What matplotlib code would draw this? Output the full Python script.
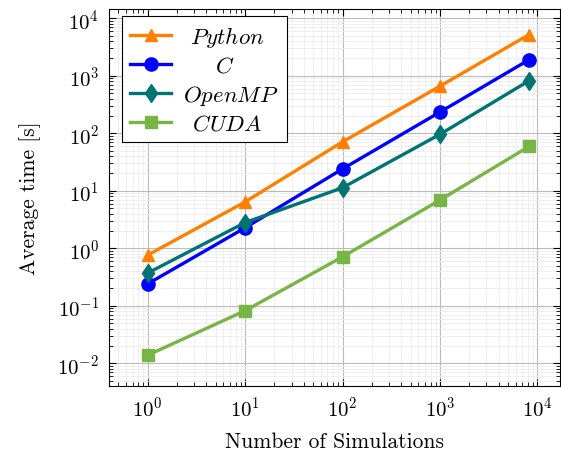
import matplotlib
matplotlib.use('Agg')
import matplotlib.pyplot as plt

plt.rcParams['font.family'] = 'serif'
plt.rcParams['font.serif'] = ['cmr10']
plt.rcParams['mathtext.fontset'] = 'cm'
plt.rcParams['axes.formatter.use_mathtext'] = True

# Datos =======================================================================
sims = [1, 10, 100, 1000, 8192]
t_python = [0.76, 6.4, 71, 660, 5200]
t_c = [0.24, 2.27, 24, 234, 1900]
t_openmp = [0.37, 2.8, 11.3, 96, 820]
t_cuda = [0.0138, 0.082, 0.71, 6.9, 59]
names = ['Python', 'C', 'OpenMP', 'CUDA']

# Visualización ===============================================================
fig = plt.figure(figsize=(5.61, 4.56), dpi=100)
ax = fig.add_axes([0.194, 0.151, 0.804, 0.827])

ax.plot(sims, t_python, color='#ff7f00', lw=2.4, marker='^', ms=9, label=names[0])
ax.plot(sims, t_c, color='#0000ff', lw=2.4, marker='o', ms=9.5, label=names[1])
ax.plot(sims, t_openmp, color='#007373', lw=2.4, marker='d', ms=9.5, label=names[2])
ax.plot(sims, t_cuda, color='#77b547', lw=2.4, marker='s', ms=9, label=names[3])

ax.set_xscale('log')
ax.set_yscale('log')
ax.set_xlim(0.4, 1.7e4)
ax.set_ylim(4e-3, 1.45e4)

ax.grid(True, which='major', color='#bbbbbb', lw=0.8)
ax.grid(True, which='minor', color='#ececec', lw=0.6)
ax.set_axisbelow(True)
ax.tick_params(which='both', direction='in', top=True, right=True, labelsize=15)
ax.tick_params(which='major', length=5, pad=7)
ax.tick_params(which='minor', length=3)

ax.set_xlabel('Number of Simulations', fontsize=15.5, labelpad=8)
ax.set_ylabel('Average time [s]', fontsize=15.5, labelpad=12)

fs = 16.5
leg = ax.legend(loc='upper left', bbox_to_anchor=(122 / 561, 1 - 17 / 456),
                bbox_transform=fig.transFigure, fontsize=fs, fancybox=False,
                framealpha=1, edgecolor='black', handlelength=1.8,
                handletextpad=0.4, borderaxespad=0, borderpad=0.35,
                labelspacing=0.3)
leg.get_frame().set_linewidth(0.8)

# Centrar etiquetas de la leyenda
fig.canvas.draw()
r = fig.canvas.get_renderer()
widths = [t.get_window_extent(r).width for t in leg.get_texts()]
em = fs * fig.dpi / 72
wmax = max(widths) + 0.35 * em
for t, w, n in zip(leg.get_texts(), widths, names):
    p = (wmax - w) / 2 / em
    t.set_text(r'$\hspace{%.3f}%s\hspace{%.3f}$' % (p, n, p))

fig.savefig('out.png', dpi=100)
